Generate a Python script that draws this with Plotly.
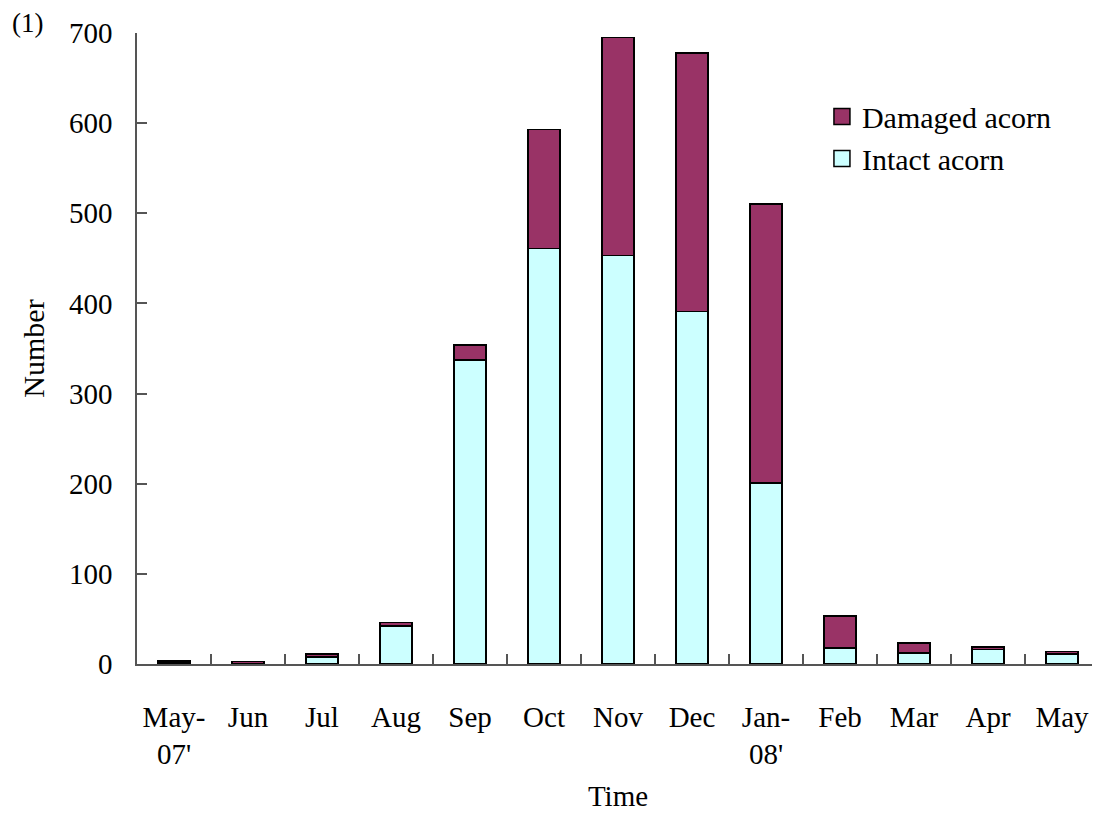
import plotly.graph_objects as go

months = ["May-<br>07'", "Jun", "Jul", "Aug", "Sep", "Oct", "Nov", "Dec", "Jan-<br>08'", "Feb", "Mar", "Apr", "May"]
intact = [2, 0, 8, 42, 337, 461, 453, 391, 201, 18, 12, 16, 11]
damaged = [2, 3, 3, 4, 17, 132, 242, 287, 309, 35, 11, 3, 3]
y_ticks = [0, 100, 200, 300, 400, 500, 600, 700]

FONT = "Liberation Serif"
C_INTACT = "#CCFFFF"
C_DAMAGED = "#993366"

x_idx = list(range(len(months)))
boundaries = [i + 0.5 for i in x_idx]

fig = go.Figure()
fig.add_trace(go.Bar(x=x_idx, y=intact, name="Intact acorn", showlegend=False,
                     marker=dict(color=C_INTACT, line=dict(color="black", width=1.6)),
                     width=0.43))
fig.add_trace(go.Bar(x=x_idx, y=damaged, name="Damaged acorn", showlegend=False,
                     marker=dict(color=C_DAMAGED, line=dict(color="black", width=1.6)),
                     width=0.43))
# legend entries with larger square swatches
fig.add_trace(go.Scatter(x=[None], y=[None], mode="markers", name="Damaged acorn",
                         marker=dict(symbol="square", size=18, color=C_DAMAGED,
                                     line=dict(color="black", width=1.5))))
fig.add_trace(go.Scatter(x=[None], y=[None], mode="markers", name="Intact acorn",
                         marker=dict(symbol="square", size=18, color=C_INTACT,
                                     line=dict(color="black", width=1.5))))

fig.update_layout(
    barmode="stack",
    width=1100, height=814,
    margin=dict(l=129, r=9, t=19, b=158),
    plot_bgcolor="white", paper_bgcolor="white",
    font=dict(family=FONT, size=29, color="black"),
    showlegend=True,
    legend=dict(x=0.712, y=0.909, xanchor="left", yanchor="top",
                traceorder="normal", bgcolor="rgba(0,0,0,0)",
                font=dict(family=FONT, size=30), itemsizing="trace",
                tracegroupgap=0),
    xaxis=dict(
        tickmode="array", tickvals=x_idx, ticktext=months,
        range=[-0.5, len(months) - 0.5],
        showline=True, linecolor="#555555", linewidth=1.5,
        ticks="", showgrid=False, zeroline=False,
        minor=dict(tickmode="array", tickvals=boundaries, ticks="inside",
                   ticklen=10, tickcolor="#555555", tickwidth=1.5, showgrid=False),
        ticklabelstandoff=26,
        tickfont=dict(family=FONT, size=29),
        title=dict(text="Time", font=dict(family=FONT, size=29), standoff=16),
    ),
    yaxis=dict(
        range=[0, 700], tickvals=y_ticks,
        showline=True, linecolor="#555555", linewidth=1.5,
        ticks="inside", ticklen=10, tickcolor="#555555", tickwidth=1.5,
        showgrid=False, zeroline=False,
        ticklabelstandoff=17,
        tickfont=dict(family=FONT, size=29),
        title=dict(text="Number", font=dict(family=FONT, size=30), standoff=15),
    ),
)

fig.add_annotation(text="(1)", xref="paper", yref="paper", x=-0.132, y=1.0,
                   xanchor="left", yanchor="middle", yshift=10, showarrow=False,
                   font=dict(family=FONT, size=27))

fig.write_html("out.html")
